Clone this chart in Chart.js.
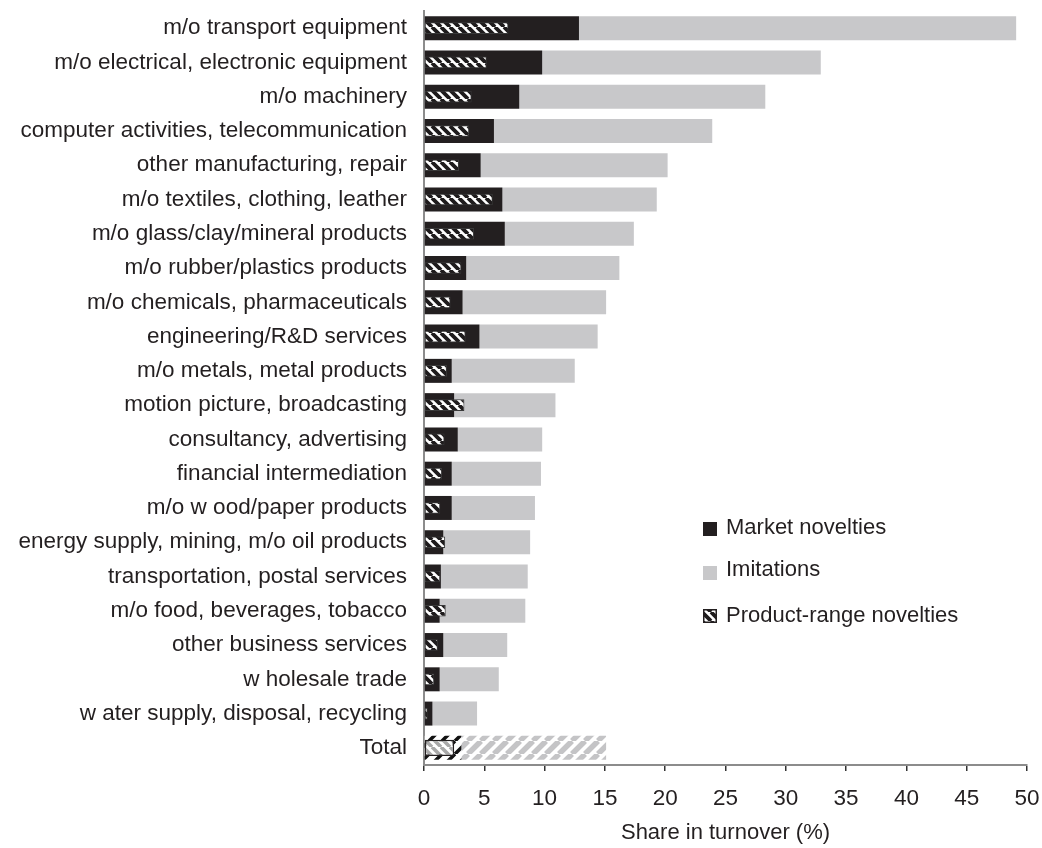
<!DOCTYPE html>
<html>
<head>
<meta charset="utf-8">
<script src="https://cdn.jsdelivr.net/npm/chart.js@4.4.1/dist/chart.umd.min.js"></script>
<style>
  html, body { margin: 0; padding: 0; background: #fff; }
  #wrap { width: 1042px; height: 848px; position: relative; }
</style>
</head>
<body>
<div id="wrap"><canvas id="chart"></canvas></div>
<script>
// sectors, top to bottom
const categories = [
  "m/o transport equipment",
  "m/o electrical, electronic equipment",
  "m/o machinery",
  "computer activities, telecommunication",
  "other manufacturing, repair",
  "m/o textiles, clothing, leather",
  "m/o glass/clay/mineral products",
  "m/o rubber/plastics products",
  "m/o chemicals, pharmaceuticals",
  "engineering/R&D services",
  "m/o metals, metal products",
  "motion picture, broadcasting",
  "consultancy, advertising",
  "financial intermediation",
  "m/o w ood/paper products",
  "energy supply, mining, m/o oil products",
  "transportation, postal services",
  "m/o food, beverages, tobacco",
  "other business services",
  "w holesale trade",
  "w ater supply, disposal, recycling",
  "Total"
];

// share in turnover (%)
const marketNovelties = [12.85, 9.8, 7.9, 5.8, 4.7, 6.5, 6.7, 3.5, 3.2, 4.6, 2.3, 2.5, 2.8, 2.3, 2.3, 1.6, 1.4, 1.3, 1.6, 1.3, 0.7, 3.1];
const imitations      = [36.25, 23.1, 20.4, 18.1, 15.5, 12.8, 10.7, 12.7, 11.9, 9.8, 10.2, 8.4, 7.0, 7.4, 6.9, 7.2, 7.2, 7.1, 5.3, 4.9, 3.7, 12.0];
const productRange    = [7.0, 5.2, 3.95, 3.75, 2.9, 5.7, 4.15, 3.1, 2.2, 3.45, 1.9, 3.35, 1.7, 1.5, 1.35, 1.75, 1.35, 1.8, 1.15, 0.85, 0.3, 2.5];

const seriesNames = ["Market novelties", "Imitations", "Product-range novelties"];
const axisMin = 0, axisMax = 50, axisStep = 5;
const axisTitle = "Share in turnover (%)";

const INK = '#231f20';
const BLACK = '#231f20';
const GREY = '#c8c8ca';
const FONT = '"Liberation Sans", Arial, sans-serif';
const lastIndex = categories.length - 1;

// diagonal hatch patterns
function hatch(bg, fg, size, width, dir) {
  const c = document.createElement('canvas');
  c.width = size; c.height = size;
  const g = c.getContext('2d');
  g.fillStyle = bg;
  g.fillRect(0, 0, size, size);
  g.strokeStyle = fg;
  g.lineWidth = width;
  g.beginPath();
  for (const k of [-size, 0, size]) {
    if (dir === 'back') { g.moveTo(k, 0); g.lineTo(k + size, size); }
    else { g.moveTo(k, size); g.lineTo(k + size, 0); }
  }
  g.stroke();
  return g.createPattern(c, 'repeat');
}

const prHatch = hatch('#ffffff', '#1e1b1c', 9, 3.8, 'back');
const totalPrHatch = hatch('#ffffff', '#a8a8a8', 9, 3.6, 'back');
const totalMarketHatch = hatch('#ffffff', '#111111', 13, 3.5, 'fwd');
const totalImitHatch = hatch('#ffffff', '#c4c4c6', 13, 5.5, 'fwd');

// legend placed inside the plot, like the original
const sideLegend = {
  id: 'sideLegend',
  afterDraw(chart) {
    const ctx = chart.ctx;
    const x0 = chart.chartArea.left + 279;
    const items = [
      { text: seriesNames[0], fill: BLACK, border: null, ty: 528, sy: 529 },
      { text: seriesNames[1], fill: GREY, border: null, ty: 570, sy: 573 },
      { text: seriesNames[2], fill: prHatch, border: INK, ty: 616, sy: 616 }
    ];
    ctx.save();
    ctx.font = '22px ' + FONT;
    ctx.textBaseline = 'middle';
    ctx.textAlign = 'left';
    items.forEach(it => {
      ctx.fillStyle = it.fill;
      ctx.fillRect(x0, it.sy - 7, 14, 14);
      if (it.border) {
        ctx.strokeStyle = it.border;
        ctx.lineWidth = 1.5;
        ctx.strokeRect(x0 + 0.75, it.sy - 6.25, 12.5, 12.5);
      }
      ctx.fillStyle = INK;
      ctx.fillText(it.text, x0 + 23, it.ty);
    });
    ctx.restore();
  }
};

const ctx = document.getElementById('chart').getContext('2d');
new Chart(ctx, {
  type: 'bar',
  data: {
    labels: categories,
    datasets: [
      {
        label: seriesNames[0],
        data: marketNovelties,
        stack: 'main',
        order: 1,
        grouped: false,
        barPercentage: 0.7,
        categoryPercentage: 1,
        borderWidth: 0,
        backgroundColor: c => c.dataIndex === lastIndex ? totalMarketHatch : BLACK
      },
      {
        label: seriesNames[1],
        data: imitations,
        stack: 'main',
        order: 1,
        grouped: false,
        barPercentage: 0.7,
        categoryPercentage: 1,
        borderWidth: 0,
        backgroundColor: c => c.dataIndex === lastIndex ? totalImitHatch : GREY
      },
      {
        label: seriesNames[2],
        data: productRange.map((v, i) => i === lastIndex ? null : v),
        stack: 'pr',
        order: 0,
        grouped: false,
        barPercentage: 0.34,
        categoryPercentage: 1,
        backgroundColor: prHatch,
        borderColor: '#3a3a3a',
        borderWidth: 1,
        borderSkipped: false
      },
      {
        label: seriesNames[2] + ' (total)',
        data: productRange.map((v, i) => i === lastIndex ? v : null),
        stack: 'prTotal',
        order: 0,
        grouped: false,
        barPercentage: 0.48,
        categoryPercentage: 1,
        backgroundColor: totalPrHatch,
        borderColor: INK,
        borderWidth: 1.5,
        borderSkipped: false
      }
    ]
  },
  options: {
    indexAxis: 'y',
    responsive: true,
    maintainAspectRatio: false,
    animation: false,
    layout: { padding: { top: 11, right: 15, left: 0, bottom: 0 } },
    scales: {
      x: {
        type: 'linear',
        min: axisMin,
        max: axisMax,
        stacked: true,
        ticks: { stepSize: axisStep, color: INK, font: { family: FONT, size: 22.5 }, padding: 14 },
        grid: { drawOnChartArea: false, drawTicks: true, tickLength: 6, color: '#333333', lineWidth: 1.5 },
        border: { color: '#8c8c8c', width: 2 },
        title: {
          display: true,
          text: axisTitle,
          color: INK,
          font: { family: FONT, size: 22 },
          padding: { top: 0, bottom: 2 }
        },
        afterFit: s => { s.height = 83; s.paddingLeft = 0; s.paddingRight = 0; }
      },
      y: {
        type: 'category',
        offset: true,
        ticks: { color: INK, font: { family: FONT, size: 22.5 }, padding: 17, autoSkip: false },
        grid: { drawOnChartArea: false, drawTicks: false },
        border: { color: '#8c8c8c', width: 2 },
        afterFit: s => { s.width = 424; s.paddingTop = 0; s.paddingBottom = 0; }
      }
    },
    plugins: {
      legend: { display: false },
      tooltip: { enabled: false }
    }
  },
  plugins: [sideLegend]
});
</script>
</body>
</html>
